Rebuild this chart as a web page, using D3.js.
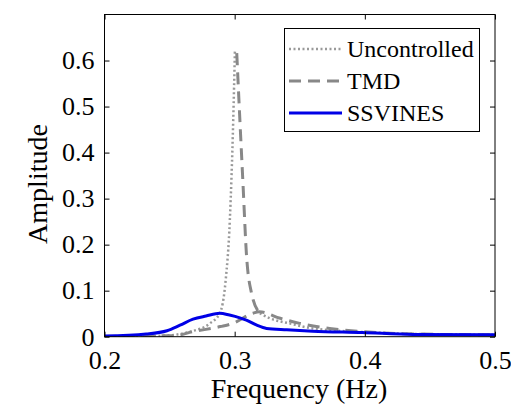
<!DOCTYPE html>
<html><head><meta charset="utf-8">
<script src="https://cdn.jsdelivr.net/npm/d3@7"></script>
<style>body{margin:0;background:#fff}svg{display:block}svg text{font-family:'Liberation Serif','Times New Roman','DejaVu Serif',serif !important;fill:#000}</style>
</head><body><svg id="c" width="511" height="408"></svg>
<script>
const xTicks = [0.2, 0.3, 0.4, 0.5];
const yTicks = [0, 0.1, 0.2, 0.3, 0.4, 0.5, 0.6];
const seriesNames = ["Uncontrolled", "TMD", "SSVINES"];

const uncFreq = [0.20, 0.23, 0.25, 0.266, 0.281, 0.2886, 0.293, 0.2963, 0.2989, 0.3002, null, 0.3193, 0.327, 0.342, 0.36, 0.40, 0.44, 0.50];
const uncAmp  = [0.000, 0.001, 0.003, 0.011, 0.029, 0.051, 0.12, 0.254, 0.471, 0.623, null, 0.051, 0.040, 0.029, 0.018, 0.010, 0.006, 0.004];

const tmdFreq = [0.20, 0.233, 0.253, 0.268, 0.289, 0.2986, 0.314, 0.319, 0.335, 0.350, 0.373, 0.398, 0.437, 0.50, null, 0.3016, 0.304, 0.3065, 0.309, 0.313, 0.3193];
const tmdAmp  = [0.000, 0.002, 0.002, 0.011, 0.022, 0.029, 0.051, 0.054, 0.040, 0.029, 0.018, 0.011, 0.006, 0.004, null, 0.616, 0.471, 0.326, 0.181, 0.094, 0.051];

const ssvFreq = [0.20, 0.232, 0.248, 0.258, 0.268, 0.278, 0.2886, 0.296, 0.304, 0.309, 0.317, 0.3245, 0.34, 0.36, 0.398, 0.437, 0.50];
const ssvAmp  = [0.0015, 0.006, 0.013, 0.025, 0.038, 0.045, 0.051, 0.047, 0.041, 0.036, 0.025, 0.018, 0.015, 0.012, 0.009, 0.005, 0.004];

const FONT = "'Liberation Serif','Times New Roman','DejaVu Serif',serif";
const svg = d3.select("#c");
const L = 104.5, R = 495, T = 14.5, B = 336.7;
const x = d3.scaleLinear().domain([0.2, 0.5]).range([L, R]);
const y = d3.scaleLinear().domain([0, 0.7]).range([B, T]);

svg.append("clipPath").attr("id","pc").append("rect")
  .attr("x", L).attr("y", T).attr("width", R-L).attr("height", B-T);

function pts(fs, as){ return fs.map((f,i)=>[f, as[i]]); }
const line = d3.line().defined(d=>d[0]!==null).x(d=>x(d[0])).y(d=>y(d[1])).curve(d3.curveMonotoneX);

const g = svg.append("g").attr("clip-path","url(#pc)");
g.append("path").datum(pts(uncFreq, uncAmp)).attr("d", line)
  .attr("fill","none").attr("stroke","#999").attr("stroke-width",2.5).attr("stroke-dasharray","2,2.5");
g.append("path").datum(pts(tmdFreq, tmdAmp)).attr("d", line)
  .attr("fill","none").attr("stroke","#888").attr("stroke-width",3).attr("stroke-dasharray","12,7");
g.append("path").datum(pts(ssvFreq, ssvAmp)).attr("d", line)
  .attr("fill","none").attr("stroke","#0000e6").attr("stroke-width",3);

svg.append("rect").attr("x",L).attr("y",T).attr("width",R-L).attr("height",B-T)
  .attr("fill","none").attr("stroke","#000").attr("stroke-width",1);

const tl = 5;
const xa = d3.axisBottom(x).tickValues(xTicks).tickSize(-tl).tickPadding(10).tickFormat(d3.format(".1f"));
const xat = d3.axisTop(x).tickValues(xTicks).tickSize(-tl).tickFormat("");
const ya = d3.axisLeft(y).tickValues(yTicks).tickSize(-tl).tickPadding(10).tickFormat(d=> d===0 ? "0" : d3.format(".1f")(d));
const yar = d3.axisRight(y).tickValues(yTicks).tickSize(-tl).tickFormat("");

function style(sel){
  sel.attr("font-family", FONT).attr("font-size", 26);
  sel.select(".domain").remove();
  sel.selectAll(".tick line").attr("stroke","#000");
  sel.selectAll("text").style("font-family", FONT).style("font-size","26px").attr("fill","#000");
}
svg.append("g").attr("transform",`translate(0,${B})`).call(xa).call(style).selectAll("text").attr("dy","0.85em");
svg.append("g").attr("transform",`translate(0,${T})`).call(xat).call(style);
svg.append("g").attr("transform",`translate(${L},0)`).call(ya).call(style);
svg.append("g").attr("transform",`translate(${R},0)`).call(yar).call(style);

svg.append("text").attr("x",299).attr("y",398).attr("text-anchor","middle").style("font-family",FONT).style("font-size","28px").text("Frequency (Hz)");
svg.append("text").attr("transform","translate(47,184) rotate(-90)").attr("text-anchor","middle").style("font-family",FONT).style("font-size","28px").text("Amplitude");

const lg = svg.append("g");
lg.append("rect").attr("x",284.5).attr("y",28.5).attr("width",195).attr("height",103)
  .attr("fill","#fff").attr("stroke","#000").attr("stroke-width",1);
const styles = [
  {c:"#999", w:2.5, d:"2,2.5"},
  {c:"#888", w:3, d:"12,7"},
  {c:"#0000e6", w:3, d:null}
];
seriesNames.forEach((n,i)=>{
  const yy = 49 + i*32;
  const ln = lg.append("line").attr("x1",289).attr("x2",342).attr("y1",yy).attr("y2",yy)
    .attr("stroke",styles[i].c).attr("stroke-width",styles[i].w);
  if(styles[i].d) ln.attr("stroke-dasharray",styles[i].d);
  lg.append("text").attr("x",347).attr("y",yy).attr("dy","0.35em").style("font-family",FONT).style("font-size","24px").text(n);
});
</script></body></html>
